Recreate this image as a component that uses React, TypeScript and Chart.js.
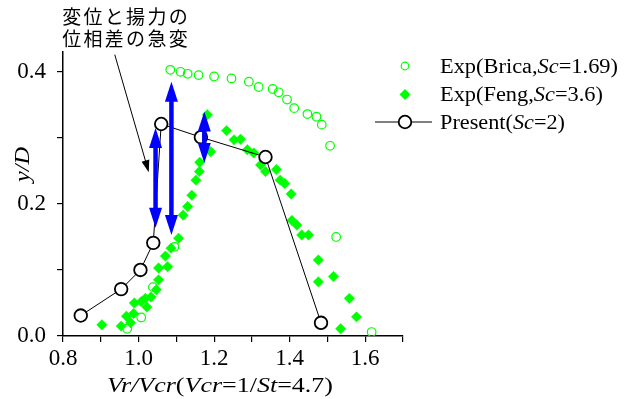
import React, { useEffect, useRef } from 'react';
import { Chart, registerables } from 'chart.js';
Chart.register(...registerables);

// Exp(Brica, Sc=1.69) — open circles
const bricaX = [0.970, 1.007, 1.038, 1.095, 1.084, 1.111, 1.130, 1.159, 1.200, 1.246, 1.292, 1.318, 1.355, 1.371, 1.393, 1.412, 1.447, 1.471, 1.485, 1.507, 1.523, 1.617];
const bricaY = [0.011, 0.028, 0.074, 0.135, 0.403, 0.400, 0.397, 0.395, 0.393, 0.390, 0.385, 0.377, 0.374, 0.369, 0.358, 0.345, 0.336, 0.332, 0.320, 0.288, 0.150, 0.006];

// Exp(Feng, Sc=3.6) — filled diamonds
const fengX = [0.903, 0.954, 0.979, 0.968, 0.987, 0.989, 1.007, 1.018, 1.022, 1.033, 1.047, 1.053, 1.053, 1.077, 1.071, 1.086, 1.106, 1.118, 1.130, 1.141, 1.152, 1.161, 1.162, 1.191, 1.182, 1.233, 1.253, 1.270, 1.288, 1.305, 1.323, 1.336, 1.365, 1.375, 1.387, 1.404, 1.406, 1.419, 1.432, 1.450, 1.476, 1.476, 1.516, 1.558, 1.577, 1.535];
const fengY = [0.017, 0.015, 0.020, 0.030, 0.034, 0.050, 0.052, 0.057, 0.044, 0.059, 0.070, 0.085, 0.103, 0.105, 0.121, 0.133, 0.148, 0.183, 0.196, 0.213, 0.236, 0.249, 0.263, 0.279, 0.335, 0.311, 0.297, 0.298, 0.282, 0.277, 0.259, 0.249, 0.252, 0.236, 0.231, 0.215, 0.175, 0.168, 0.153, 0.153, 0.115, 0.082, 0.090, 0.057, 0.029, 0.011];

// Present (Sc=2) — line with open circles
const presentX = [0.847, 0.954, 1.005, 1.039, 1.060, 1.165, 1.336, 1.483];
const presentY = [0.031, 0.071, 0.100, 0.141, 0.321, 0.301, 0.271, 0.020];

// Blue double arrows (phase jump markers)
const arrowX = [1.045, 1.087, 1.174];
const arrowTop = [0.315, 0.385, 0.340];
const arrowBottom = [0.164, 0.153, 0.262];

// Black pointer arrow from annotation
const pointerFrom = [0.937, 0.426];
const pointerTo = [1.027, 0.248];

const noteLines = ['変位と揚力の', '位相差の急変'];
const legendRows: [string, boolean][][] = [
  [['Exp(Brica,', false], ['Sc', true], ['=1.69)', false]],
  [['Exp(Feng,', false], ['Sc', true], ['=3.6)', false]],
  [['Present(', false], ['Sc', true], ['=2)', false]],
];
const xTitle: [string, boolean][] = [['Vr/Vcr', true], ['(', false], ['Vcr', true], ['=1/', false], ['St', true], ['=4.7)', false]];
const yTitle: [string, boolean][] = [['y/D', true]];

const GREEN = '#00ff00';
const SERIF = '"Liberation Serif", "Times New Roman", serif';

function drawRich(ctx: CanvasRenderingContext2D, segs: [string, boolean][], x: number, y: number, size: number, targetW: number, align: 'left' | 'center') {
  let w = 0;
  const widths: number[] = [];
  for (const [t, it] of segs) {
    ctx.font = `${it ? 'italic ' : ''}${size}px ${SERIF}`;
    const mw = ctx.measureText(t).width;
    widths.push(mw);
    w += mw;
  }
  const sx = targetW ? targetW / w : 1;
  ctx.save();
  ctx.translate(x, y);
  ctx.scale(sx, 1);
  ctx.textAlign = 'left';
  ctx.textBaseline = 'alphabetic';
  ctx.fillStyle = '#000';
  let cx = align === 'center' ? -w / 2 : 0;
  segs.forEach(([t, it], i) => {
    ctx.font = `${it ? 'italic ' : ''}${size}px ${SERIF}`;
    ctx.fillText(t, cx, 0);
    cx += widths[i];
  });
  ctx.restore();
}

const overlayPlugin = {
  id: 'overlay',
  afterDatasetsDraw(chart: any) {
    const { ctx } = chart;
    const xs = chart.scales.x;
    const ys = chart.scales.y;
    ctx.save();
    ctx.fillStyle = '#0000ff';
    ctx.strokeStyle = '#0000ff';
    const hl = 20, hw = 6.5;
    for (let i = 0; i < arrowX.length; i++) {
      const px = xs.getPixelForValue(arrowX[i]);
      const pt = ys.getPixelForValue(arrowTop[i]);
      const pb = ys.getPixelForValue(arrowBottom[i]);
      ctx.lineWidth = 4.5;
      ctx.beginPath();
      ctx.moveTo(px, pt + hl - 2);
      ctx.lineTo(px, pb - hl + 2);
      ctx.stroke();
      ctx.beginPath();
      ctx.moveTo(px, pt);
      ctx.lineTo(px - hw, pt + hl);
      ctx.lineTo(px + hw, pt + hl);
      ctx.closePath();
      ctx.fill();
      ctx.beginPath();
      ctx.moveTo(px, pb);
      ctx.lineTo(px - hw, pb - hl);
      ctx.lineTo(px + hw, pb - hl);
      ctx.closePath();
      ctx.fill();
    }
    ctx.restore();
  },
  afterDraw(chart: any) {
    const { ctx } = chart;
    const xs = chart.scales.x;
    const ys = chart.scales.y;
    // pointer arrow
    const x0 = xs.getPixelForValue(pointerFrom[0]);
    const y0 = ys.getPixelForValue(pointerFrom[1]);
    const x1 = xs.getPixelForValue(pointerTo[0]);
    const y1 = ys.getPixelForValue(pointerTo[1]);
    const ang = Math.atan2(y1 - y0, x1 - x0);
    const hl = 12, hw = 4;
    ctx.save();
    ctx.strokeStyle = '#000';
    ctx.fillStyle = '#000';
    ctx.lineWidth = 1;
    ctx.beginPath();
    ctx.moveTo(x0, y0);
    ctx.lineTo(x1 - Math.cos(ang) * hl * 0.8, y1 - Math.sin(ang) * hl * 0.8);
    ctx.stroke();
    ctx.beginPath();
    ctx.moveTo(x1, y1);
    ctx.lineTo(x1 - Math.cos(ang) * hl - Math.sin(ang) * hw, y1 - Math.sin(ang) * hl + Math.cos(ang) * hw);
    ctx.lineTo(x1 - Math.cos(ang) * hl + Math.sin(ang) * hw, y1 - Math.sin(ang) * hl - Math.cos(ang) * hw);
    ctx.closePath();
    ctx.fill();

    // Japanese annotation
    ctx.font = '19px "Noto Sans CJK JP", sans-serif';
    ctx.textAlign = 'center';
    ctx.textBaseline = 'middle';
    noteLines.forEach((line, li) => {
      Array.from(line).forEach((ch, ci) => {
        ctx.fillText(ch, 71.7 + ci * 21.3, 16.5 + li * 22);
      });
    });
    ctx.restore();

    // axis titles
    drawRich(ctx, xTitle, 220, 392, 20, 226, 'center');
    ctx.save();
    ctx.translate(29, 164.5);
    ctx.rotate(-Math.PI / 2);
    drawRich(ctx, yTitle, 0, 0, 20, 35, 'center');
    ctx.restore();

    // legend
    ctx.save();
    ctx.strokeStyle = GREEN;
    ctx.lineWidth = 1.2;
    ctx.beginPath();
    ctx.arc(405, 66, 3.8, 0, Math.PI * 2);
    ctx.stroke();
    ctx.fillStyle = GREEN;
    ctx.beginPath();
    ctx.moveTo(405, 89);
    ctx.lineTo(410.5, 94.5);
    ctx.lineTo(405, 100);
    ctx.lineTo(399.5, 94.5);
    ctx.closePath();
    ctx.fill();
    ctx.strokeStyle = '#000';
    ctx.lineWidth = 1;
    ctx.beginPath();
    ctx.moveTo(375, 122);
    ctx.lineTo(432, 122);
    ctx.stroke();
    ctx.fillStyle = '#fff';
    ctx.lineWidth = 1.8;
    ctx.beginPath();
    ctx.arc(405, 122, 6.3, 0, Math.PI * 2);
    ctx.fill();
    ctx.stroke();
    ctx.restore();
    const legendW = [178, 163, 125];
    const legendBase = [73, 101, 128.5];
    legendRows.forEach((row, i) => drawRich(ctx, row, 440, legendBase[i], 20, legendW[i], 'left'));
  },
};

const tickCb = (v: any) => {
  const r = Math.round(Number(v) * 10);
  return r % 2 === 0 ? (r / 10).toFixed(1) : '';
};

export default function App() {
  const ref = useRef<HTMLCanvasElement | null>(null);
  useEffect(() => {
    if (!ref.current) return;
    const gridCfg = { display: true, drawOnChartArea: false, drawTicks: true, tickLength: 6, color: '#000', lineWidth: 1.2 };
    const borderCfg = { display: true, color: '#000', width: 1.5 };
    const chart = new Chart(ref.current, {
      type: 'scatter',
      data: {
        datasets: [
          {
            label: 'Present(Sc=2)',
            data: presentX.map((x, i) => ({ x, y: presentY[i] })),
            showLine: true,
            borderColor: '#000',
            borderWidth: 1,
            pointStyle: 'circle',
            pointRadius: 6.3,
            pointBorderWidth: 1.8,
            pointBorderColor: '#000',
            pointBackgroundColor: '#fff',
          },
          {
            label: 'Exp(Brica,Sc=1.69)',
            data: bricaX.map((x, i) => ({ x, y: bricaY[i] })),
            pointStyle: 'circle',
            pointRadius: 4.3,
            pointBorderWidth: 1.2,
            pointBorderColor: GREEN,
            pointBackgroundColor: 'rgba(0,0,0,0)',
          },
          {
            label: 'Exp(Feng,Sc=3.6)',
            data: fengX.map((x, i) => ({ x, y: fengY[i] })),
            pointStyle: 'rectRot',
            pointRadius: 5.2,
            pointBorderWidth: 0.5,
            pointBorderColor: GREEN,
            pointBackgroundColor: GREEN,
          },
        ],
      },
      options: {
        animation: false,
        responsive: true,
        maintainAspectRatio: false,
        layout: { padding: { top: 52, right: 230, left: 0, bottom: 0 } },
        plugins: { legend: { display: false }, tooltip: { enabled: false } },
        scales: {
          x: {
            type: 'linear',
            min: 0.8,
            max: 1.7,
            afterFit: (s: any) => { s.height = 63; },
            ticks: { stepSize: 0.1, autoSkip: false, maxRotation: 0, includeBounds: false, callback: tickCb, color: '#000', font: { family: SERIF, size: 23 }, padding: 3 },
            grid: gridCfg,
            border: borderCfg,
          },
          y: {
            type: 'linear',
            min: 0,
            max: 0.43,
            afterFit: (s: any) => { s.width = 63; },
            ticks: { stepSize: 0.1, autoSkip: false, includeBounds: false, callback: tickCb, color: '#000', font: { family: SERIF, size: 23 }, padding: 11 },
            grid: gridCfg,
            border: borderCfg,
          },
        },
      } as any,
      plugins: [overlayPlugin],
    });
    return () => chart.destroy();
  }, []);
  return (
    <div style={{ position: 'absolute', left: 0, top: 0, width: 633, height: 399, background: '#fff' }}>
      <canvas ref={ref} />
    </div>
  );
}
